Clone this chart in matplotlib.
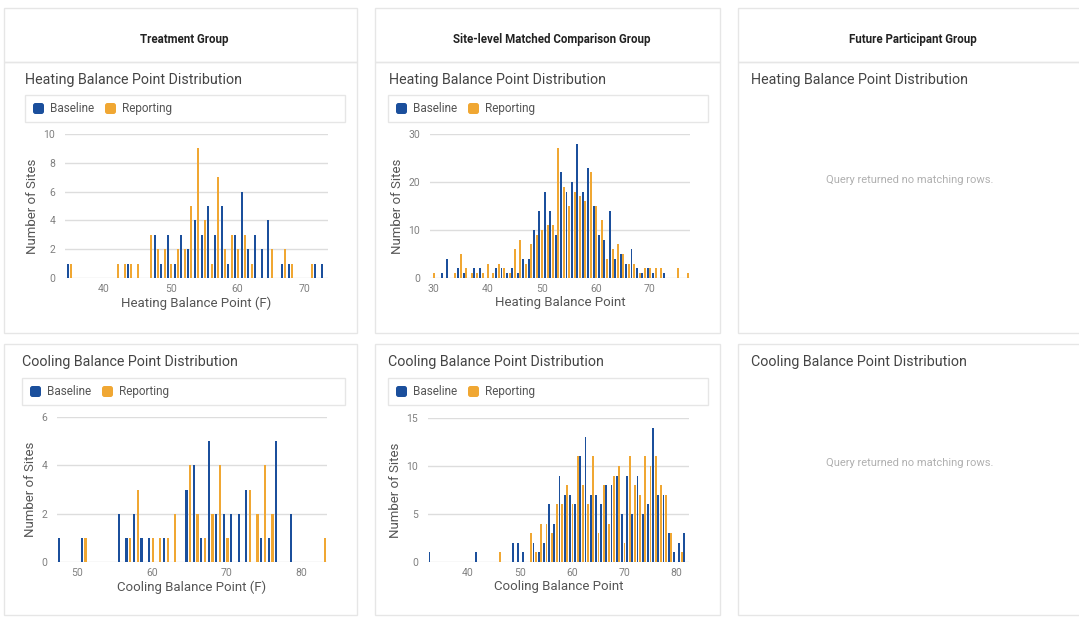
import numpy as np
import matplotlib
matplotlib.use("Agg")
from matplotlib import pyplot as plt
from matplotlib.patches import Rectangle, FancyBboxPatch

plt.rcParams["font.family"] = ["Roboto", "DejaVu Sans"]

W, H = 1079, 619
BLUE = "#1b4f9c"
ORANGE = "#f0a733"
GRID = "#dddddd"
BORDER = "#e6e6e6"
TEXT = "#555555"
TICK = "#808080"

groups = ["Treatment Group", "Site-level Matched Comparison Group", "Future Participant Group"]
series = ["Baseline", "Reporting"]
heat_title = "Heating Balance Point Distribution"
cool_title = "Cooling Balance Point Distribution"
empty_msg = "Query returned no matching rows."

# balance point (F) -> number of sites
trt_heat_base = {35: 1, 44: 1, 48: 3, 49: 1, 50: 3, 51: 1, 52: 3, 53: 2, 54: 4, 55: 3,
                 56: 5, 57: 3, 58: 5, 59: 1, 60: 3, 61: 6, 62: 2, 63: 3, 64: 2, 65: 4,
                 67: 1, 68: 1, 72: 1, 73: 1}
trt_heat_rep = {35: 1, 42: 1, 43: 1, 44: 1, 45: 1, 47: 3, 48: 2, 49: 2, 50: 1, 51: 2,
                52: 2, 53: 5, 54: 9, 55: 4, 56: 1, 57: 7, 58: 2, 59: 3, 60: 2, 61: 3,
                62: 1, 65: 2, 67: 2, 68: 1, 71: 1}

site_heat_base = {32: 1, 33: 4, 35: 2, 36: 1, 38: 2, 39: 2, 42: 2, 43: 2, 44: 1, 45: 2,
                  46: 1, 47: 4, 48: 4, 49: 10, 50: 14, 51: 18, 52: 14, 53: 9, 54: 22,
                  55: 18, 56: 20, 57: 28, 58: 18, 59: 23, 60: 15, 61: 9, 62: 8, 63: 14,
                  64: 4, 65: 5, 66: 3, 67: 6, 68: 2, 69: 1, 70: 2, 71: 1, 73: 1}
site_heat_rep = {30: 1, 34: 1, 35: 5, 36: 2, 37: 1, 38: 1, 39: 1, 40: 3, 41: 1, 42: 3,
                 43: 2, 44: 1, 45: 6, 46: 8, 47: 3, 48: 7, 49: 9, 50: 10, 51: 11, 52: 11,
                 53: 27, 54: 19, 55: 15, 56: 18, 57: 17, 58: 16, 59: 22, 60: 15, 61: 12,
                 62: 4, 63: 6, 64: 7, 65: 5, 66: 3, 67: 3, 68: 1, 69: 2, 70: 2, 71: 2,
                 72: 2, 75: 2, 77: 1}

trt_cool_base = {48: 1, 51: 1, 56: 2, 57: 1, 58: 2, 59: 1, 60: 1, 62: 1, 65: 3, 66: 4,
                 67: 1, 68: 5, 69: 2, 70: 2, 71: 2, 72: 2, 73: 3, 75: 1, 76: 1, 77: 5,
                 79: 2}
trt_cool_rep = {51: 1, 57: 1, 58: 3, 60: 1, 61: 1, 62: 1, 63: 2, 65: 4, 66: 2, 67: 1,
                68: 2, 69: 4, 70: 1, 73: 3, 74: 2, 75: 4, 76: 2, 83: 1}

site_cool_base = {33: 1, 42: 1, 49: 2, 50: 2, 51: 1, 53: 2, 54: 1, 55: 2, 56: 6, 57: 4,
                  58: 9, 59: 7, 60: 7, 61: 6, 62: 11, 63: 13, 64: 7, 65: 7, 66: 6, 67: 8,
                  68: 8, 69: 9, 70: 5, 71: 9, 72: 5, 73: 9, 74: 5, 75: 6, 76: 14, 77: 7,
                  78: 7, 79: 3, 80: 1, 81: 2, 82: 3}
site_cool_rep = {46: 1, 52: 3, 53: 1, 54: 4, 55: 4, 56: 3, 57: 6, 58: 6, 59: 8, 60: 6,
                 61: 11, 62: 8, 63: 6, 64: 11, 65: 3, 66: 8, 67: 4, 68: 9, 69: 10, 70: 2,
                 71: 11, 72: 8, 73: 7, 74: 11, 75: 10, 76: 11, 77: 8, 78: 7, 79: 3, 81: 1}


def px_axes(fig, left, top, right, bottom):
    """Add axes placed with pixel bounds (origin top-left)."""
    return fig.add_axes([left / W, 1 - bottom / H, (right - left) / W, (bottom - top) / H])


def draw_hist(ax, base, rep, xlim, ymax, ystep, xticks, xlabel, width):
    ks = np.array(sorted(set(base) | set(rep)))
    b = [base.get(k, 0) for k in ks]
    r = [rep.get(k, 0) for k in ks]
    ax.bar(ks - 0.4, b, width, color=BLUE, zorder=3, label=series[0])
    ax.bar(ks + 0.1, r, width, color=ORANGE, zorder=3, label=series[1])
    ax.set_xlim(*xlim)
    ax.set_ylim(0, ymax)
    ax.set_yticks(np.arange(0, ymax + 1, ystep))
    ax.set_xticks(xticks)
    ax.grid(axis="y", color=GRID, lw=1, zorder=0)
    ax.set_axisbelow(True)
    for s in ax.spines.values():
        s.set_visible(False)
    ax.tick_params(length=0, labelsize=7.5, colors=TICK, pad=4)
    ax.tick_params(axis="y", pad=7)
    ax.set_xlabel(xlabel, fontsize=9.5, color=TEXT, labelpad=2)
    ax.set_ylabel("Number of Sites", fontsize=9.5, color=TEXT, labelpad=3)


def draw_legend(bg, x0, x1, y0, y1):
    bg.add_patch(Rectangle((x0, y0), x1 - x0, y1 - y0, fill=False, ec=BORDER, lw=1))
    yc = (y0 + y1) / 2
    for dx, color, name in [(8, BLUE, series[0]), (80, ORANGE, series[1])]:
        bg.add_patch(FancyBboxPatch((x0 + dx, yc - 5.5), 11, 11,
                                    boxstyle="round,pad=0,rounding_size=2.5",
                                    fc=color, ec="none"))
        bg.text(x0 + dx + 17, yc, name, fontsize=8.5, color=TEXT, va="center", ha="left")


fig = plt.figure(figsize=(W / 100, H / 100), dpi=100)
bg = fig.add_axes([0, 0, 1, 1])
bg.set_xlim(0, W)
bg.set_ylim(H, 0)
bg.axis("off")

cols = [(4, 357), (375, 720), (738, 1085)]
title_x = [(25, 22), (389, 388), (751, 751)]
for (x0, x1), name, (hx, cx) in zip(cols, groups, title_x):
    bg.add_patch(Rectangle((x0, 8), x1 - x0, 54, fill=False, ec=BORDER, lw=1))
    bg.add_patch(Rectangle((x0, 62), x1 - x0, 271, fill=False, ec=BORDER, lw=1))
    bg.add_patch(Rectangle((x0, 344), x1 - x0, 271, fill=False, ec=BORDER, lw=1))
    bg.text((x0 + min(x1, W)) / 2 + 4, 39, name, fontsize=8.3, fontweight="bold",
            color="#222222", ha="center", va="center")
    bg.text(hx, 80, heat_title, fontsize=10.3, color="#444444", ha="left", va="center")
    bg.text(cx, 362, cool_title, fontsize=10.3, color="#444444", ha="left", va="center")

# legends for the two populated columns
draw_legend(bg, 25, 345, 95, 122)
draw_legend(bg, 22, 345, 378, 405)
draw_legend(bg, 388, 708, 95, 122)
draw_legend(bg, 388, 708, 378, 405)

# empty column messages
bg.text(910, 180, empty_msg, fontsize=8, color="#b0b0b0", ha="center", va="center")
bg.text(910, 463, empty_msg, fontsize=8, color="#b0b0b0", ha="center", va="center")

ax = px_axes(fig, 65, 134, 328, 278)
draw_hist(ax, trt_heat_base, trt_heat_rep, (34.2, 73.5), 10, 2, [40, 50, 60, 70],
          "Heating Balance Point (F)", 0.3)

ax = px_axes(fig, 430, 134, 690, 278)
draw_hist(ax, site_heat_base, site_heat_rep, (29.4, 77.4), 30, 10, [30, 40, 50, 60, 70],
          "Heating Balance Point", 0.36)

ax = px_axes(fig, 57, 417, 327, 562)
draw_hist(ax, trt_cool_base, trt_cool_rep, (47.3, 83.4), 6, 2, [50, 60, 70, 80],
          "Cooling Balance Point (F)", 0.3)

ax = px_axes(fig, 428, 418, 689, 562)
draw_hist(ax, site_cool_base, site_cool_rep, (32.3, 82.5), 15, 5, [40, 50, 60, 70, 80],
          "Cooling Balance Point", 0.36)

fig.savefig("out.png", dpi=100)
